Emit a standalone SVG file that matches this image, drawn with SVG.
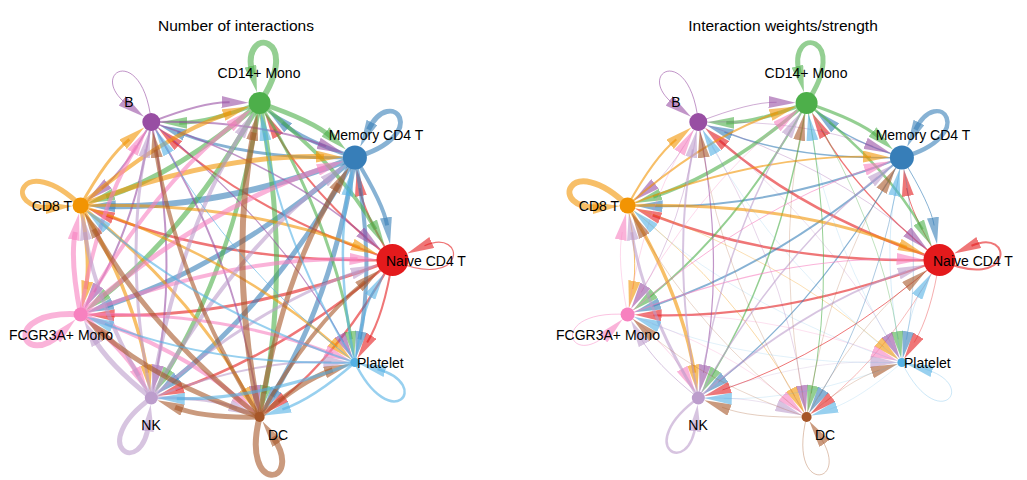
<svg xmlns="http://www.w3.org/2000/svg" xmlns:xlink="http://www.w3.org/1999/xlink" width="1027" height="480" viewBox="0 0 1027 480">
<style>
.e{fill:none;stroke-opacity:0.6;stroke-linecap:butt}
.cN{stroke:#E41A1C;marker-end:url(#aN)}
.cM{stroke:#377EB8;marker-end:url(#aM)}
.cC{stroke:#4DAF4A;marker-end:url(#aC)}
.cB{stroke:#984EA3;marker-end:url(#aB)}
.cT{stroke:#F29403;marker-end:url(#aT)}
.cF{stroke:#F781BF;marker-end:url(#aF)}
.cK{stroke:#BC9DCC;marker-end:url(#aK)}
.cD{stroke:#A65628;marker-end:url(#aD)}
.cP{stroke:#54B0E4;marker-end:url(#aP)}
text{font-family:"Liberation Sans",Arial,sans-serif;fill:#000}
.lab{font-size:14px}
.title{font-size:15.5px;text-anchor:middle}
</style>
<defs>
<marker id="aN" viewBox="0 0 27 12" markerWidth="27" markerHeight="12" refX="8" refY="6" orient="auto" markerUnits="userSpaceOnUse"><path d="M0,0L27,6L0,12z" fill="#E41A1C" fill-opacity="0.6"/></marker>
<marker id="aM" viewBox="0 0 27 12" markerWidth="27" markerHeight="12" refX="8" refY="6" orient="auto" markerUnits="userSpaceOnUse"><path d="M0,0L27,6L0,12z" fill="#377EB8" fill-opacity="0.6"/></marker>
<marker id="aC" viewBox="0 0 27 12" markerWidth="27" markerHeight="12" refX="8" refY="6" orient="auto" markerUnits="userSpaceOnUse"><path d="M0,0L27,6L0,12z" fill="#4DAF4A" fill-opacity="0.6"/></marker>
<marker id="aB" viewBox="0 0 27 12" markerWidth="27" markerHeight="12" refX="8" refY="6" orient="auto" markerUnits="userSpaceOnUse"><path d="M0,0L27,6L0,12z" fill="#984EA3" fill-opacity="0.6"/></marker>
<marker id="aT" viewBox="0 0 27 12" markerWidth="27" markerHeight="12" refX="8" refY="6" orient="auto" markerUnits="userSpaceOnUse"><path d="M0,0L27,6L0,12z" fill="#F29403" fill-opacity="0.6"/></marker>
<marker id="aF" viewBox="0 0 27 12" markerWidth="27" markerHeight="12" refX="8" refY="6" orient="auto" markerUnits="userSpaceOnUse"><path d="M0,0L27,6L0,12z" fill="#F781BF" fill-opacity="0.6"/></marker>
<marker id="aK" viewBox="0 0 27 12" markerWidth="27" markerHeight="12" refX="8" refY="6" orient="auto" markerUnits="userSpaceOnUse"><path d="M0,0L27,6L0,12z" fill="#BC9DCC" fill-opacity="0.6"/></marker>
<marker id="aD" viewBox="0 0 27 12" markerWidth="27" markerHeight="12" refX="8" refY="6" orient="auto" markerUnits="userSpaceOnUse"><path d="M0,0L27,6L0,12z" fill="#A65628" fill-opacity="0.6"/></marker>
<marker id="aP" viewBox="0 0 27 12" markerWidth="27" markerHeight="12" refX="8" refY="6" orient="auto" markerUnits="userSpaceOnUse"><path d="M0,0L27,6L0,12z" fill="#54B0E4" fill-opacity="0.6"/></marker>
<path id="eNM" d="M392.5,260 Q363.45,212.51 359.66,188.12"/>
<path id="eMN" d="M354.9,157.5 Q383.95,204.99 387.12,225.43"/>
<path id="eNC" d="M392.5,260 Q310.35,194.79 274.11,129.26"/>
<path id="eCN" d="M259.6,103 Q341.75,168.21 375.57,229.37"/>
<path id="eNB" d="M392.5,260 Q258.1,215.12 172.4,140.4"/>
<path id="eBN" d="M151.3,122 Q285.7,166.88 366.12,236.99"/>
<path id="eNT" d="M392.5,260 Q231.1,263.94 105.77,215.28"/>
<path id="eTN" d="M80.6,205.5 Q242,201.56 359.88,247.33"/>
<path id="eNF" d="M392.5,260 Q242,318.44 106.59,315.13"/>
<path id="eFN" d="M80.6,314.5 Q231.1,256.06 357.52,259.15"/>
<path id="eNK" d="M392.5,260 Q285.7,353.12 175.49,389.92"/>
<path id="eKN" d="M151.3,398 Q258.1,304.88 359.3,271.09"/>
<path id="eND" d="M392.5,260 Q341.75,351.79 278.4,402.08"/>
<path id="eDN" d="M259.6,417 Q310.35,325.21 365.09,281.76"/>
<path id="eNP" d="M392.5,260 Q383.95,315.01 367.16,342.46"/>
<path id="ePN" d="M354.9,362.5 Q363.45,307.49 374.24,289.84"/>
<path id="eMC" d="M354.9,157.5 Q301.8,139.78 282.21,122.7"/>
<path id="eCM" d="M259.6,103 Q312.7,120.72 331.54,137.14"/>
<path id="eMB" d="M354.9,157.5 Q249.55,160.11 177.4,132.12"/>
<path id="eBM" d="M151.3,122 Q256.65,119.39 326,146.29"/>
<path id="eMT" d="M354.9,157.5 Q222.55,208.93 107.59,206.15"/>
<path id="eTM" d="M80.6,205.5 Q212.95,154.07 323.91,156.75"/>
<path id="eMF" d="M354.9,157.5 Q233.45,263.43 105.26,306.26"/>
<path id="eFM" d="M80.6,314.5 Q202.05,208.57 325.5,167.32"/>
<path id="eMK" d="M354.9,157.5 Q277.15,298.11 171.27,382.15"/>
<path id="eKM" d="M151.3,398 Q229.05,257.39 330.62,176.77"/>
<path id="eMD" d="M354.9,157.5 Q333.2,296.78 272.13,396.54"/>
<path id="eDM" d="M259.6,417 Q281.3,277.72 338.72,183.93"/>
<path id="eMP" d="M354.9,157.5 Q375.4,260 359.51,339.46"/>
<path id="ePM" d="M354.9,362.5 Q334.4,260 348.82,187.89"/>
<path id="eCB" d="M259.6,103 Q207.35,123.33 179.29,122.66"/>
<path id="eBC" d="M151.3,122 Q203.55,101.67 229.61,102.29"/>
<path id="eCT" d="M259.6,103 Q180.35,172.15 106.21,196.94"/>
<path id="eTC" d="M80.6,205.5 Q159.85,136.35 231.15,112.51"/>
<path id="eCF" d="M259.6,103 Q191.25,226.65 100.96,298.34"/>
<path id="eFC" d="M80.6,314.5 Q148.95,190.85 236.11,121.65"/>
<path id="eCK" d="M259.6,103 Q234.95,261.33 164.6,376.26"/>
<path id="eKC" d="M151.3,398 Q175.95,239.67 243.95,128.58"/>
<path id="eCD" d="M259.6,103 Q291,260 264.31,393.47"/>
<path id="eDC" d="M259.6,417 Q228.2,260 253.71,132.42"/>
<path id="eCP" d="M259.6,103 Q333.2,223.22 351.29,339.29"/>
<path id="ePC" d="M354.9,362.5 Q281.3,242.28 264.21,132.64"/>
<path id="eBT" d="M151.3,122 Q124.3,170.82 101.75,188.72"/>
<path id="eTB" d="M80.6,205.5 Q107.6,156.68 129.37,139.4"/>
<path id="eBF" d="M151.3,122 Q135.2,225.32 94.17,292.33"/>
<path id="eFB" d="M80.6,314.5 Q96.7,211.18 136.68,145.87"/>
<path id="eBK" d="M151.3,122 Q178.9,260 156.3,373"/>
<path id="eKB" d="M151.3,398 Q123.7,260 145.81,149.45"/>
<path id="eBD" d="M151.3,122 Q234.95,258.67 255.91,393.29"/>
<path id="eDB" d="M259.6,417 Q175.95,280.33 155.6,149.66"/>
<path id="eBP" d="M151.3,122 Q277.15,221.89 343.53,341.93"/>
<path id="ePB" d="M354.9,362.5 Q229.05,262.61 164.84,146.51"/>
<path id="eTF" d="M80.6,205.5 Q91.5,260 85.7,289.01"/>
<path id="eFT" d="M80.6,314.5 Q69.7,260 75.3,231.97"/>
<path id="eTK" d="M80.6,205.5 Q135.2,294.68 147.38,372.81"/>
<path id="eKT" d="M151.3,398 Q96.7,308.82 84.75,232.17"/>
<path id="eTD" d="M80.6,205.5 Q191.25,293.35 247.99,395.99"/>
<path id="eDT" d="M259.6,417 Q148.95,329.15 93.66,229.13"/>
<path id="eTP" d="M80.6,205.5 Q233.45,256.57 337.2,347.06"/>
<path id="ePT" d="M354.9,362.5 Q202.05,311.43 100.94,223.24"/>
<path id="eFK" d="M80.6,314.5 Q124.3,349.18 138.96,375.69"/>
<path id="eKF" d="M151.3,398 Q107.6,363.32 93.18,337.24"/>
<path id="eFD" d="M80.6,314.5 Q180.35,347.85 241.52,401.22"/>
<path id="eDF" d="M259.6,417 Q159.85,383.65 100.18,331.59"/>
<path id="eFP" d="M80.6,314.5 Q222.55,311.07 333,353.99"/>
<path id="ePF" d="M354.9,362.5 Q212.95,365.93 104.83,323.92"/>
<path id="eKD" d="M151.3,398 Q207.35,396.67 237.23,408.3"/>
<path id="eDK" d="M259.6,417 Q203.55,418.33 175.07,407.25"/>
<path id="eKP" d="M151.3,398 Q249.55,359.89 331.41,361.92"/>
<path id="ePK" d="M354.9,362.5 Q256.65,400.61 176.79,398.63"/>
<path id="eDP" d="M259.6,417 Q301.8,380.22 332.61,369.93"/>
<path id="ePD" d="M354.9,362.5 Q312.7,399.28 282.36,409.41"/>
<path id="lN" d="M392.5,260 C467.4,293.35 467.4,226.65 424.47,245.77"/>
<path id="lM" d="M354.9,157.5 C433.73,134.9 390.85,83.8 368.49,129.64"/>
<path id="lC" d="M259.6,103 C305.45,35.02 239.76,23.44 252.34,73.89"/>
<path id="lB" d="M151.3,122 C142.73,40.45 84.96,73.8 128.65,105.54"/>
<path id="lT" d="M80.6,205.5 C21.62,148.53 -1.2,211.22 53.66,207.38"/>
<path id="lF" d="M80.6,314.5 C-1.2,308.78 21.62,371.47 61.9,332.56"/>
<path id="lK" d="M151.3,398 C84.96,446.2 142.73,479.55 148.64,423.36"/>
<path id="lD" d="M259.6,417 C239.76,496.56 305.45,484.98 273.02,436.9"/>
<path id="lP" d="M354.9,362.5 C390.85,436.2 433.73,385.1 377.49,368.98"/>
</defs>
<rect x="0" y="0" width="1027" height="480" fill="#FFFFFF"/>

<!-- LEFT PANEL: Number of interactions -->
<g id="panel-count">
<text class="title" x="236" y="31">Number of interactions</text>
<g id="count-connectors">
<use href="#eNM" class="e cN" stroke-width="2"/>
<use href="#eNC" class="e cN" stroke-width="2"/>
<use href="#eNB" class="e cN" stroke-width="2"/>
<use href="#eNT" class="e cN" stroke-width="2.5"/>
<use href="#eNF" class="e cN" stroke-width="3"/>
<use href="#eNK" class="e cN" stroke-width="2.5"/>
<use href="#eND" class="e cN" stroke-width="2.5"/>
<use href="#eNP" class="e cN" stroke-width="2"/>
<use href="#lN" class="e cN" stroke-width="1.2"/>
<use href="#eMN" class="e cM" stroke-width="4"/>
<use href="#eMC" class="e cM" stroke-width="4"/>
<use href="#eMB" class="e cM" stroke-width="3"/>
<use href="#eMT" class="e cM" stroke-width="6"/>
<use href="#eMF" class="e cM" stroke-width="5"/>
<use href="#eMK" class="e cM" stroke-width="5"/>
<use href="#eMD" class="e cM" stroke-width="5"/>
<use href="#eMP" class="e cM" stroke-width="4"/>
<use href="#lM" class="e cM" stroke-width="5"/>
<use href="#eCN" class="e cC" stroke-width="4"/>
<use href="#eCM" class="e cC" stroke-width="5"/>
<use href="#eCB" class="e cC" stroke-width="4"/>
<use href="#eCT" class="e cC" stroke-width="5"/>
<use href="#eCF" class="e cC" stroke-width="5"/>
<use href="#eCK" class="e cC" stroke-width="4.5"/>
<use href="#eCD" class="e cC" stroke-width="5"/>
<use href="#eCP" class="e cC" stroke-width="3"/>
<use href="#lC" class="e cC" stroke-width="6"/>
<use href="#eBN" class="e cB" stroke-width="1.5"/>
<use href="#eBM" class="e cB" stroke-width="2"/>
<use href="#eBC" class="e cB" stroke-width="2"/>
<use href="#eBT" class="e cB" stroke-width="2"/>
<use href="#eBF" class="e cB" stroke-width="2"/>
<use href="#eBK" class="e cB" stroke-width="2"/>
<use href="#eBD" class="e cB" stroke-width="2"/>
<use href="#eBP" class="e cB" stroke-width="1.2"/>
<use href="#lB" class="e cB" stroke-width="1"/>
<use href="#eTN" class="e cT" stroke-width="3"/>
<use href="#eTM" class="e cT" stroke-width="5"/>
<use href="#eTC" class="e cT" stroke-width="4"/>
<use href="#eTB" class="e cT" stroke-width="3"/>
<use href="#eTF" class="e cT" stroke-width="4"/>
<use href="#eTK" class="e cT" stroke-width="3.5"/>
<use href="#eTD" class="e cT" stroke-width="3"/>
<use href="#eTP" class="e cT" stroke-width="2.5"/>
<use href="#lT" class="e cT" stroke-width="5"/>
<use href="#eFN" class="e cF" stroke-width="4"/>
<use href="#eFM" class="e cF" stroke-width="5"/>
<use href="#eFC" class="e cF" stroke-width="4"/>
<use href="#eFB" class="e cF" stroke-width="4"/>
<use href="#eFT" class="e cF" stroke-width="5"/>
<use href="#eFK" class="e cF" stroke-width="5"/>
<use href="#eFD" class="e cF" stroke-width="4"/>
<use href="#eFP" class="e cF" stroke-width="3"/>
<use href="#lF" class="e cF" stroke-width="6"/>
<use href="#eKN" class="e cK" stroke-width="3"/>
<use href="#eKM" class="e cK" stroke-width="4"/>
<use href="#eKC" class="e cK" stroke-width="4"/>
<use href="#eKB" class="e cK" stroke-width="3"/>
<use href="#eKT" class="e cK" stroke-width="4"/>
<use href="#eKF" class="e cK" stroke-width="5"/>
<use href="#eKD" class="e cK" stroke-width="3"/>
<use href="#eKP" class="e cK" stroke-width="2"/>
<use href="#lK" class="e cK" stroke-width="5"/>
<use href="#eDN" class="e cD" stroke-width="4"/>
<use href="#eDM" class="e cD" stroke-width="5"/>
<use href="#eDC" class="e cD" stroke-width="6"/>
<use href="#eDB" class="e cD" stroke-width="4"/>
<use href="#eDT" class="e cD" stroke-width="5"/>
<use href="#eDF" class="e cD" stroke-width="5"/>
<use href="#eDK" class="e cD" stroke-width="5"/>
<use href="#eDP" class="e cD" stroke-width="5"/>
<use href="#lD" class="e cD" stroke-width="6"/>
<use href="#ePN" class="e cP" stroke-width="2"/>
<use href="#ePM" class="e cP" stroke-width="2.5"/>
<use href="#ePC" class="e cP" stroke-width="2"/>
<use href="#ePB" class="e cP" stroke-width="1"/>
<use href="#ePT" class="e cP" stroke-width="2"/>
<use href="#ePF" class="e cP" stroke-width="2"/>
<use href="#ePK" class="e cP" stroke-width="3"/>
<use href="#ePD" class="e cP" stroke-width="2.5"/>
<use href="#lP" class="e cP" stroke-width="2.5"/>
</g>
<g id="count-naive-cd4-t"><circle cx="392.5" cy="260" r="16" fill="#E41A1C"/><text class="lab" x="386" y="266">Naive CD4 T</text></g>
<g id="count-memory-cd4-t"><circle cx="354.9" cy="157.5" r="12" fill="#377EB8"/><text class="lab" x="376" y="140" text-anchor="middle">Memory CD4 T</text></g>
<g id="count-cd14-mono"><circle cx="259.6" cy="103" r="11" fill="#4DAF4A"/><text class="lab" x="259" y="78" text-anchor="middle">CD14+ Mono</text></g>
<g id="count-b"><circle cx="151.3" cy="122" r="9" fill="#984EA3"/><text class="lab" x="129" y="107" text-anchor="middle">B</text></g>
<g id="count-cd8-t"><circle cx="80.6" cy="205.5" r="8" fill="#F29403"/><text class="lab" x="72" y="210.5" text-anchor="end">CD8 T</text></g>
<g id="count-fcgr3a-mono"><circle cx="80.6" cy="314.5" r="7" fill="#F781BF"/><text class="lab" x="61" y="339.5" text-anchor="middle">FCGR3A+ Mono</text></g>
<g id="count-nk"><circle cx="151.3" cy="398" r="6.5" fill="#BC9DCC"/><text class="lab" x="151" y="430" text-anchor="middle">NK</text></g>
<g id="count-dc"><circle cx="259.6" cy="417" r="5" fill="#A65628"/><text class="lab" x="278" y="440" text-anchor="middle">DC</text></g>
<g id="count-platelet"><circle cx="354.9" cy="362.5" r="4.5" fill="#54B0E4"/><text class="lab" x="357" y="367.5">Platelet</text></g>
</g>

<!-- RIGHT PANEL: Interaction weights/strength -->
<g id="panel-weight" transform="translate(547,0)">
<text class="title" x="236" y="31">Interaction weights/strength</text>
<g id="weight-connectors">
<use href="#eNM" class="e cN" stroke-width="1"/>
<use href="#eNC" class="e cN" stroke-width="1.5"/>
<use href="#eNB" class="e cN" stroke-width="2.5"/>
<use href="#eNT" class="e cN" stroke-width="2.5"/>
<use href="#eNF" class="e cN" stroke-width="2.2"/>
<use href="#eNK" class="e cN" stroke-width="1"/>
<use href="#eND" class="e cN" stroke-width="0.5"/>
<use href="#eNP" class="e cN" stroke-width="0.6"/>
<use href="#lN" class="e cN" stroke-width="2"/>
<use href="#eMN" class="e cM" stroke-width="1"/>
<use href="#eMC" class="e cM" stroke-width="1.5"/>
<use href="#eMB" class="e cM" stroke-width="1.5"/>
<use href="#eMT" class="e cM" stroke-width="2"/>
<use href="#eMF" class="e cM" stroke-width="2"/>
<use href="#eMK" class="e cM" stroke-width="1.2"/>
<use href="#eMD" class="e cM" stroke-width="0.7"/>
<use href="#eMP" class="e cM" stroke-width="0.5"/>
<use href="#lM" class="e cM" stroke-width="4.5"/>
<use href="#eCN" class="e cC" stroke-width="2.5"/>
<use href="#eCM" class="e cC" stroke-width="3"/>
<use href="#eCB" class="e cC" stroke-width="3.5"/>
<use href="#eCT" class="e cC" stroke-width="3.5"/>
<use href="#eCF" class="e cC" stroke-width="2"/>
<use href="#eCK" class="e cC" stroke-width="1.5"/>
<use href="#eCD" class="e cC" stroke-width="1"/>
<use href="#eCP" class="e cC" stroke-width="0.6"/>
<use href="#lC" class="e cC" stroke-width="5"/>
<use href="#eBN" class="e cB" stroke-width="0.5"/>
<use href="#eBM" class="e cB" stroke-width="0.5"/>
<use href="#eBC" class="e cB" stroke-width="0.8"/>
<use href="#eBT" class="e cB" stroke-width="0.5"/>
<use href="#eBF" class="e cB" stroke-width="0.5"/>
<use href="#eBK" class="e cB" stroke-width="1.2"/>
<use href="#eBD" class="e cB" stroke-width="0.4"/>
<use href="#eBP" class="e cB" stroke-width="0.3"/>
<use href="#lB" class="e cB" stroke-width="1"/>
<use href="#eTN" class="e cT" stroke-width="3"/>
<use href="#eTM" class="e cT" stroke-width="1.8"/>
<use href="#eTC" class="e cT" stroke-width="2"/>
<use href="#eTB" class="e cT" stroke-width="2"/>
<use href="#eTF" class="e cT" stroke-width="1"/>
<use href="#eTK" class="e cT" stroke-width="3.5"/>
<use href="#eTD" class="e cT" stroke-width="0.6"/>
<use href="#eTP" class="e cT" stroke-width="0.5"/>
<use href="#lT" class="e cT" stroke-width="6"/>
<use href="#eFN" class="e cF" stroke-width="1.2"/>
<use href="#eFM" class="e cF" stroke-width="1"/>
<use href="#eFC" class="e cF" stroke-width="0.5"/>
<use href="#eFB" class="e cF" stroke-width="0.5"/>
<use href="#eFT" class="e cF" stroke-width="0.5"/>
<use href="#eFK" class="e cF" stroke-width="0.6"/>
<use href="#eFD" class="e cF" stroke-width="0.4"/>
<use href="#eFP" class="e cF" stroke-width="0.4"/>
<use href="#lF" class="e cF" stroke-width="0.8"/>
<use href="#eKN" class="e cK" stroke-width="2"/>
<use href="#eKM" class="e cK" stroke-width="1.5"/>
<use href="#eKC" class="e cK" stroke-width="1.5"/>
<use href="#eKB" class="e cK" stroke-width="2"/>
<use href="#eKT" class="e cK" stroke-width="3"/>
<use href="#eKF" class="e cK" stroke-width="1"/>
<use href="#eKD" class="e cK" stroke-width="0.5"/>
<use href="#eKP" class="e cK" stroke-width="0.4"/>
<use href="#lK" class="e cK" stroke-width="2.5"/>
<use href="#eDN" class="e cD" stroke-width="0.4"/>
<use href="#eDM" class="e cD" stroke-width="0.4"/>
<use href="#eDC" class="e cD" stroke-width="0.4"/>
<use href="#eDB" class="e cD" stroke-width="0.4"/>
<use href="#eDT" class="e cD" stroke-width="0.4"/>
<use href="#eDF" class="e cD" stroke-width="0.4"/>
<use href="#eDK" class="e cD" stroke-width="0.5"/>
<use href="#eDP" class="e cD" stroke-width="0.4"/>
<use href="#lD" class="e cD" stroke-width="0.6"/>
<use href="#ePN" class="e cP" stroke-width="0.4"/>
<use href="#ePM" class="e cP" stroke-width="0.4"/>
<use href="#ePC" class="e cP" stroke-width="0.3"/>
<use href="#ePB" class="e cP" stroke-width="0.3"/>
<use href="#ePT" class="e cP" stroke-width="0.3"/>
<use href="#ePF" class="e cP" stroke-width="0.3"/>
<use href="#ePK" class="e cP" stroke-width="0.3"/>
<use href="#ePD" class="e cP" stroke-width="0.3"/>
<use href="#lP" class="e cP" stroke-width="0.5"/>
</g>
<g id="weight-naive-cd4-t"><circle cx="392.5" cy="260" r="16" fill="#E41A1C"/><text class="lab" x="386" y="266">Naive CD4 T</text></g>
<g id="weight-memory-cd4-t"><circle cx="354.9" cy="157.5" r="12" fill="#377EB8"/><text class="lab" x="376" y="140" text-anchor="middle">Memory CD4 T</text></g>
<g id="weight-cd14-mono"><circle cx="259.6" cy="103" r="11" fill="#4DAF4A"/><text class="lab" x="259" y="78" text-anchor="middle">CD14+ Mono</text></g>
<g id="weight-b"><circle cx="151.3" cy="122" r="9" fill="#984EA3"/><text class="lab" x="129" y="107" text-anchor="middle">B</text></g>
<g id="weight-cd8-t"><circle cx="80.6" cy="205.5" r="8" fill="#F29403"/><text class="lab" x="72" y="210.5" text-anchor="end">CD8 T</text></g>
<g id="weight-fcgr3a-mono"><circle cx="80.6" cy="314.5" r="7" fill="#F781BF"/><text class="lab" x="61" y="339.5" text-anchor="middle">FCGR3A+ Mono</text></g>
<g id="weight-nk"><circle cx="151.3" cy="398" r="6.5" fill="#BC9DCC"/><text class="lab" x="151" y="430" text-anchor="middle">NK</text></g>
<g id="weight-dc"><circle cx="259.6" cy="417" r="5" fill="#A65628"/><text class="lab" x="278" y="440" text-anchor="middle">DC</text></g>
<g id="weight-platelet"><circle cx="354.9" cy="362.5" r="4.5" fill="#54B0E4"/><text class="lab" x="357" y="367.5">Platelet</text></g>
</g>
</svg>
